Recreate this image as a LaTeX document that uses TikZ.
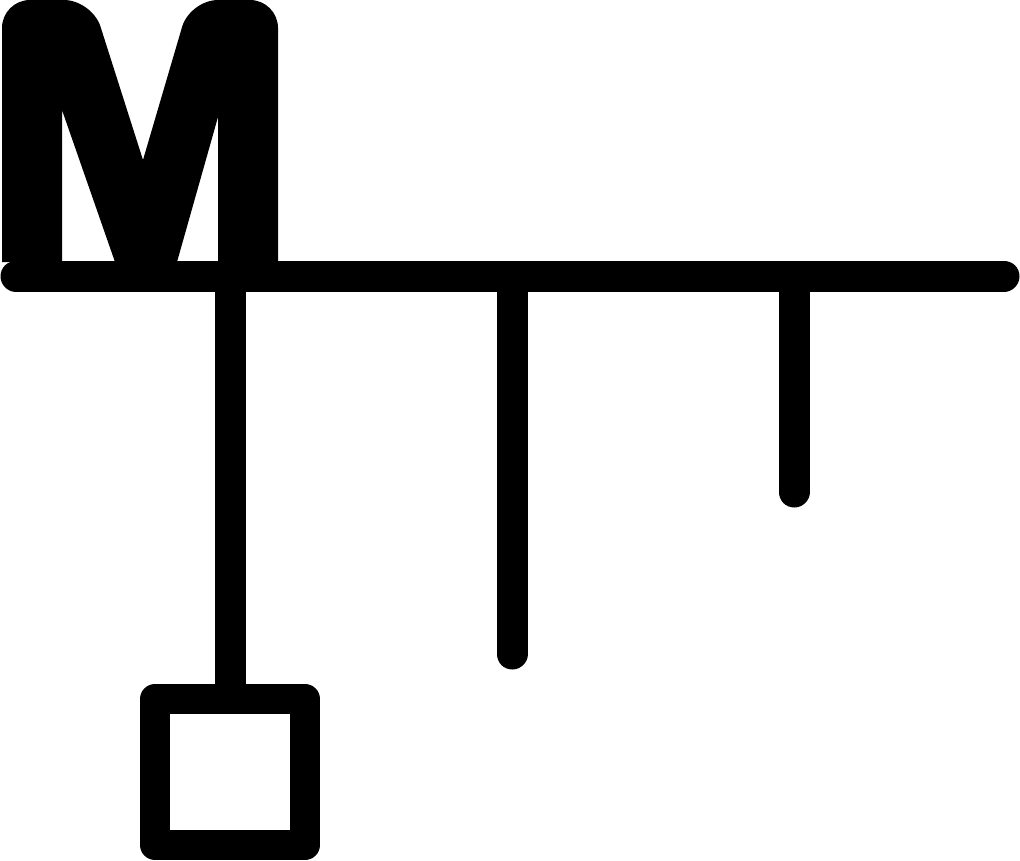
\documentclass[tikz,border=0pt]{standalone}
\begin{document}
\begin{tikzpicture}[x=1pt,y=-1pt,
  wire/.style={line width=31pt,line cap=round,line join=round},
  boxstyle/.style={line width=30pt,line join=round}]
\useasboundingbox (0,0) rectangle (1020,861);
% letter M
\fill (2,262) [rounded corners=28pt] -- (2,0) -- (92,0) [sharp corners] -- (143,160)
  [rounded corners=28pt] -- (190,0) -- (278,0) [sharp corners] -- (278,262) -- (218,262) -- (218,117)
  -- (177,262) -- (115,262) -- (62,110) -- (62,262) -- cycle;
% coordinates
\coordinate (hl) at (16,276);
\coordinate (hr) at (1004,276);
\coordinate (t1) at (230,276);
\coordinate (t2) at (512,292);
\coordinate (t3) at (794,292);
\coordinate (e2) at (512,654);
\coordinate (e3) at (794,492);
\node[draw=none,minimum width=149pt,minimum height=146pt,inner sep=0pt] (box) at (230,772) {};
\draw[wire] (hl) -- (hr);
\draw[line width=31pt] (t1) -- (box.north);
\draw[wire] (t2) -- (e2);
\draw[wire] (t3) -- (e3);
\draw[boxstyle] (box.north west) rectangle (box.south east);
\end{tikzpicture}
\end{document}
